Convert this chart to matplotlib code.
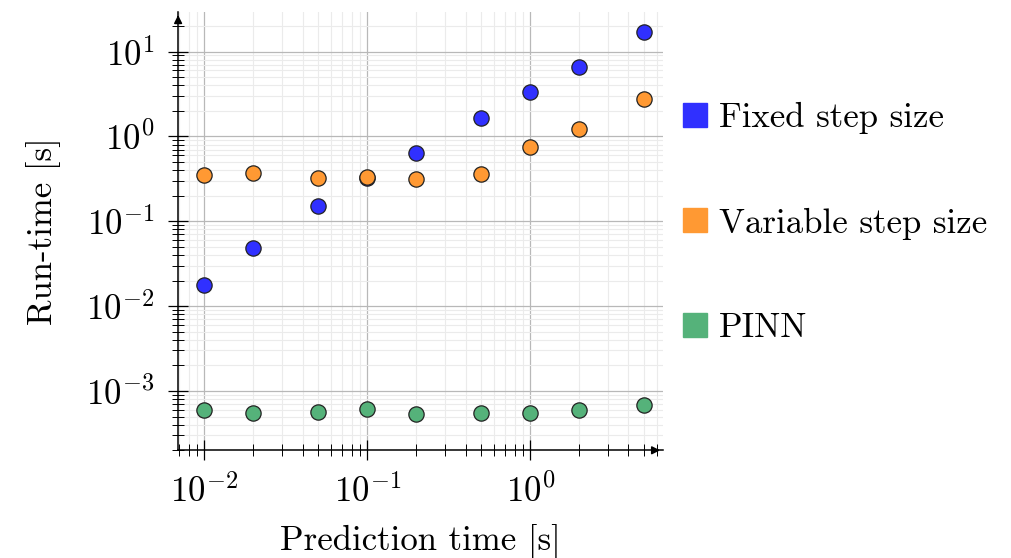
"""
Run-time vs prediction time, log-log scatter, pgfplots look.
"""
import matplotlib
matplotlib.use("Agg")
import matplotlib.pyplot as plt
from matplotlib.lines import Line2D
from matplotlib.ticker import LogLocator, NullFormatter

plt.rcParams['font.family'] = ['cmr10', 'DejaVu Serif']
plt.rcParams['mathtext.fontset'] = 'cm'
plt.rcParams['axes.formatter.use_mathtext'] = True

# prediction horizons [s]
pred_time = [0.01, 0.02, 0.05, 0.1, 0.2, 0.5, 1, 2, 5]

# run-times [s]
fixed_step = [0.0176, 0.0483, 0.153, 0.319, 0.632, 1.65, 3.37, 6.49, 17.1]
variable_step = [0.355, 0.372, 0.325, 0.334, 0.311, 0.365, 0.75, 1.23, 2.76]
pinn = [5.9e-4, 5.52e-4, 5.73e-4, 6.1e-4, 5.33e-4, 5.57e-4, 5.57e-4, 5.93e-4, 6.8e-4]

series = [
    ("Fixed step size", fixed_step, "#3030FF"),
    ("Variable step size", variable_step, "#FF9933"),
    ("PINN", pinn, "#55B27A"),
]

fig = plt.figure(figsize=(10.12, 5.58), dpi=100)
ax = fig.add_axes([0.176, 0.193, 0.479, 0.785])

for name, vals, col in series:
    ax.plot(pred_time, vals, linestyle='none', marker='o', markersize=11,
            markerfacecolor=col, markeredgecolor='#222222', markeredgewidth=0.9,
            zorder=3)

ax.set_xscale('log')
ax.set_yscale('log')
ax.set_xlim(0.0069, 6.5)
ax.set_ylim(2.0e-4, 29)

ax.xaxis.set_major_locator(LogLocator(base=10, numticks=10))
ax.yaxis.set_major_locator(LogLocator(base=10, numticks=10))
ax.xaxis.set_minor_locator(LogLocator(base=10, subs=range(2, 10), numticks=20))
ax.yaxis.set_minor_locator(LogLocator(base=10, subs=range(2, 10), numticks=20))
ax.xaxis.set_minor_formatter(NullFormatter())
ax.yaxis.set_minor_formatter(NullFormatter())

ax.grid(True, which='major', color='#b8b8b8', linewidth=0.9)
ax.grid(True, which='minor', color='#ebebeb', linewidth=0.8)
ax.set_axisbelow(True)

for s in ['top', 'right']:
    ax.spines[s].set_visible(False)
for s in ['left', 'bottom']:
    ax.spines[s].set_linewidth(1.1)

ax.tick_params(which='major', direction='inout', length=14, width=0.9,
               labelsize=25, pad=10)
ax.tick_params(which='minor', direction='inout', length=9, width=0.7)

# axis arrows
ax.annotate('', xy=(1.0, 0), xytext=(0.98, 0), xycoords='axes fraction',
            arrowprops=dict(arrowstyle='-|>', color='black', lw=1.1,
                            mutation_scale=12), annotation_clip=False)
ax.annotate('', xy=(0, 1.0), xytext=(0, 0.98), xycoords='axes fraction',
            arrowprops=dict(arrowstyle='-|>', color='black', lw=1.1,
                            mutation_scale=12), annotation_clip=False)

ax.set_xlabel('Prediction time [s]', fontsize=25, labelpad=11)
ax.set_ylabel('Run-time [s]', fontsize=25, labelpad=18)

handles = [Line2D([], [], linestyle='none', marker='s', markersize=17,
                  markerfacecolor=col, markeredgecolor=col)
           for _, _, col in series]
fig.legend(handles, [n for n, _, _ in series], loc='center left',
           bbox_to_anchor=(0.642, 0.600), frameon=False, fontsize=25,
           labelspacing=2.1, handlelength=0.8, handletextpad=0.3)

fig.savefig('out.png', dpi=100)
